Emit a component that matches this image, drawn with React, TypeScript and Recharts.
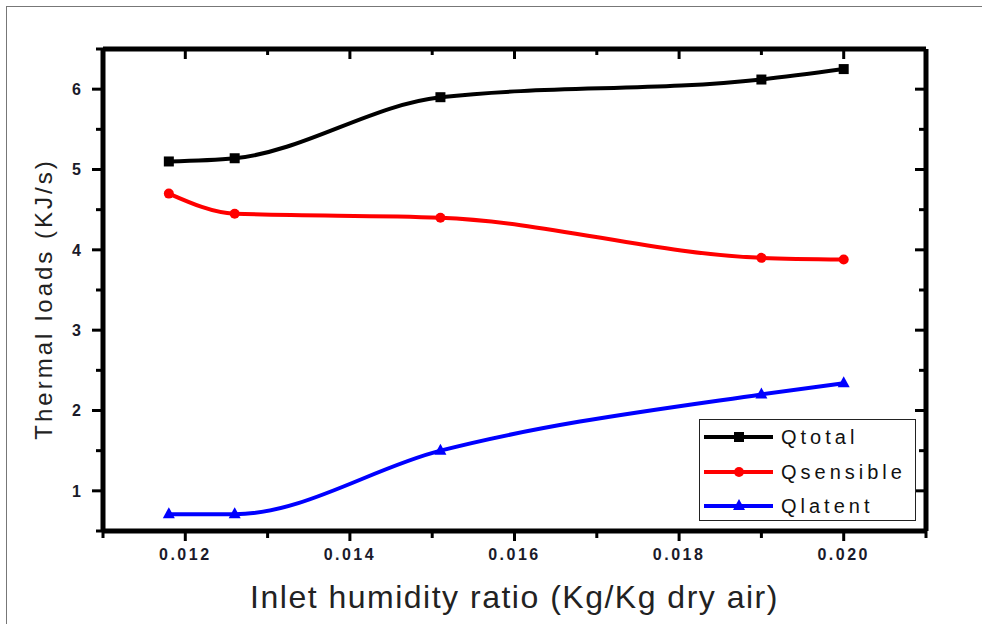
import { LineChart, Line, XAxis, YAxis, Legend } from 'recharts';

const humidity = [0.0118, 0.0126, 0.0151, 0.019, 0.02];
const qTotal = [5.1, 5.14, 5.9, 6.12, 6.25];
const qSensible = [4.7, 4.45, 4.4, 3.9, 3.88];
const qLatent = [0.71, 0.71, 1.5, 2.2, 2.34];

const xTicks = [0.011, 0.012, 0.013, 0.014, 0.015, 0.016, 0.017, 0.018, 0.019, 0.02, 0.021];
const yTicks = [0.5, 1, 1.5, 2, 2.5, 3, 3.5, 4, 4.5, 5, 5.5, 6, 6.5];

const seriesNames = ['Qtotal', 'Qsensible', 'Qlatent'];
const xTitle = 'Inlet humidity ratio (Kg/Kg dry air)';
const yTitle = 'Thermal loads (KJ/s)';

const data = humidity.map((x, i) => ({
  x,
  total: qTotal[i],
  sensible: qSensible[i],
  latent: qLatent[i],
}));

const FONT = '"Liberation Sans", Arial, sans-serif';
const colors = { total: '#000000', sensible: '#ff0000', latent: '#0000ff' };

const isMajorX = (v: number) => Math.round(v * 1000) % 2 === 0;
const isMajorY = (v: number) => Number.isInteger(v);

const BottomTick = ({ x, y, payload }: any) => {
  const major = isMajorX(payload.value);
  return (
    <g>
      <line x1={x} x2={x} y1={y} y2={y + (major ? 10 : 7)} stroke="#000" strokeWidth={3} />
      {major && (
        <text x={x} y={y + 29} textAnchor="middle" fontFamily={FONT} fontSize={16} fontWeight={700}
          letterSpacing={2.5} fill="#1a1a2a">
          {payload.value.toFixed(3)}
        </text>
      )}
    </g>
  );
};

const TopTick = ({ x, y, payload }: any) => {
  const major = isMajorX(payload.value);
  return <line x1={x} x2={x} y1={y} y2={y + (major ? 10 : 6)} stroke="#000" strokeWidth={3} />;
};

const LeftTick = ({ x, y, payload }: any) => {
  const major = isMajorY(payload.value);
  return (
    <g>
      <line x1={x - (major ? 11 : 7)} x2={x} y1={y} y2={y} stroke="#000" strokeWidth={3} />
      {major && (
        <text x={x - 22} y={y} dy="0.36em" textAnchor="end" fontFamily={FONT} fontSize={16}
          fontWeight={700} fill="#1a1a2a">
          {payload.value}
        </text>
      )}
    </g>
  );
};

const RightTick = ({ x, y, payload }: any) => {
  const major = isMajorY(payload.value);
  return <line x1={x - (major ? 11 : 7)} x2={x} y1={y} y2={y} stroke="#000" strokeWidth={3} />;
};

const SquareDot = ({ cx, cy }: any) => (
  <rect x={cx - 5} y={cy - 5} width={10} height={10} fill={colors.total} />
);
const CircleDot = ({ cx, cy }: any) => <circle cx={cx} cy={cy} r={5} fill={colors.sensible} />;
const TriangleDot = ({ cx, cy }: any) => (
  <polygon points={`${cx},${cy - 7} ${cx + 6},${cy + 4} ${cx - 6},${cy + 4}`} fill={colors.latent} />
);

const YTitle = ({ viewBox }: any) => {
  const cx = viewBox.x + 43;
  const cy = 299;
  return (
    <text x={cx} y={cy} transform={`rotate(-90, ${cx}, ${cy})`} textAnchor="middle"
      dominantBaseline="central" fontFamily={FONT} fontSize={24} letterSpacing={3} fill="#222">
      {yTitle}
    </text>
  );
};

const legendMarkers = [
  <rect key="s" x={31} y={5} width={10} height={10} fill={colors.total} />,
  <circle key="c" cx={36} cy={10} r={5} fill={colors.sensible} />,
  <polygon key="t" points="36,3 42,14 30,14" fill={colors.latent} />,
];
const legendColors = [colors.total, colors.sensible, colors.latent];

const LegendBox = () => (
  <div style={{ width: 217, height: 102, border: '1.5px solid #222', boxSizing: 'border-box',
    background: '#fff', position: 'relative' }}>
    {seriesNames.map((name, i) => (
      <div key={name} style={{ position: 'absolute', left: 3, top: 5 + i * 34.5, height: 24,
        display: 'flex', alignItems: 'center' }}>
        <svg width={72} height={20}>
          <line x1={1} x2={70} y1={10} y2={10} stroke={legendColors[i]} strokeWidth={4} />
          {legendMarkers[i]}
        </svg>
        <span style={{ marginLeft: 6, fontFamily: FONT, fontSize: 20, letterSpacing: 4,
          color: '#111', lineHeight: '24px' }}>{name}</span>
      </div>
    ))}
  </div>
);

export default function App() {
  return (
    <div style={{ position: 'absolute', left: 0, top: 0, width: 982, height: 624, background: '#fff', overflow: 'hidden' }}>
      <div style={{ position: 'absolute', left: 6, top: 6, width: 990, height: 630,
        borderTop: '1.5px solid #777', borderLeft: '1.5px solid #777' }} />
      <LineChart width={982} height={624} data={data} margin={{ top: 0, right: 0, bottom: 0, left: 0 }}>
        <XAxis xAxisId="bottom" dataKey="x" type="number" domain={[0.011, 0.021]} ticks={xTicks}
          interval={0} allowDataOverflow height={93} tickSize={0} tickMargin={0} tickLine={false}
          axisLine={{ stroke: '#000', strokeWidth: 5 }} tick={<BottomTick />}
          label={{ value: xTitle, position: 'insideBottom', offset: 16,
            style: { fontFamily: FONT, fontSize: 32, letterSpacing: 1.5, fill: '#222' } }} />
        <XAxis xAxisId="top" orientation="top" dataKey="x" type="number" domain={[0.011, 0.021]}
          ticks={xTicks} interval={0} allowDataOverflow height={49} tickSize={0} tickMargin={0}
          tickLine={false} axisLine={{ stroke: '#000', strokeWidth: 5 }} tick={<TopTick />} />
        <YAxis yAxisId="left" type="number" domain={[0.5, 6.5]} ticks={yTicks} interval={0}
          allowDataOverflow width={103} tickSize={0} tickMargin={0} tickLine={false}
          axisLine={{ stroke: '#000', strokeWidth: 5 }} tick={<LeftTick />} label={<YTitle />} />
        <YAxis yAxisId="right" orientation="right" type="number" domain={[0.5, 6.5]} ticks={yTicks}
          interval={0} allowDataOverflow width={56} tickSize={0} tickMargin={0} tickLine={false}
          axisLine={{ stroke: '#000', strokeWidth: 5 }} tick={<RightTick />} />
        <Legend layout="vertical" align="center" verticalAlign="middle" content={<LegendBox />}
          wrapperStyle={{ left: 699, top: 419, width: 217, height: 102 }} />
        <Line xAxisId="bottom" yAxisId="left" type="monotone" dataKey="total" name="Qtotal"
          stroke={colors.total} strokeWidth={4} dot={<SquareDot />} activeDot={false} isAnimationActive={false} />
        <Line xAxisId="bottom" yAxisId="left" type="monotone" dataKey="sensible" name="Qsensible"
          stroke={colors.sensible} strokeWidth={4} dot={<CircleDot />} activeDot={false} isAnimationActive={false} />
        <Line xAxisId="bottom" yAxisId="left" type="monotone" dataKey="latent" name="Qlatent"
          stroke={colors.latent} strokeWidth={4} dot={<TriangleDot />} activeDot={false} isAnimationActive={false} />
      </LineChart>
    </div>
  );
}
